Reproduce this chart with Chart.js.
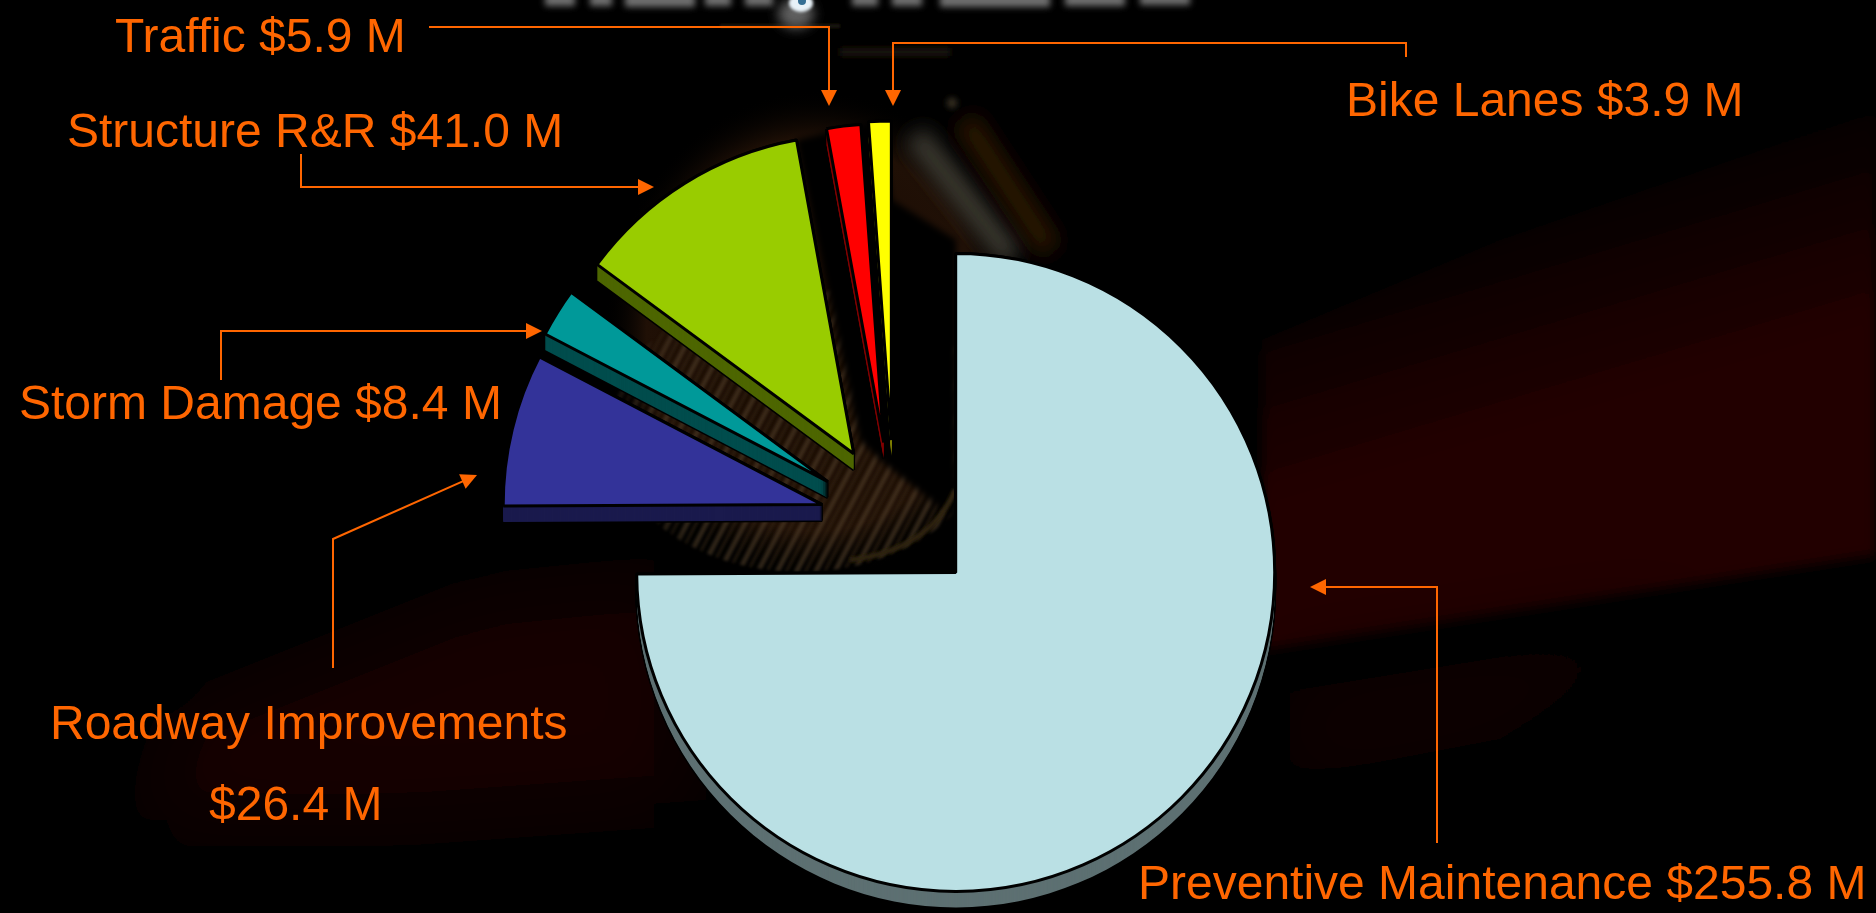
<!DOCTYPE html>
<html><head><meta charset="utf-8">
<style>
html,body{margin:0;padding:0;background:#000;width:1876px;height:913px;overflow:hidden}
#bg{position:absolute;left:0;top:0}
#c{position:absolute;left:0;top:0}
</style>
<script src="https://cdn.jsdelivr.net/npm/chart.js@4/dist/chart.umd.min.js"></script>
</head><body>
<svg id="bg" width="1876" height="913" aria-hidden="true">
<defs>
<filter id="b40" filterUnits="userSpaceOnUse" x="-200" y="-200" width="2300" height="1400"><feGaussianBlur stdDeviation="40"/></filter>
<filter id="b6" filterUnits="userSpaceOnUse" x="-200" y="-200" width="2300" height="1400"><feGaussianBlur stdDeviation="6"/></filter>
<filter id="b10" filterUnits="userSpaceOnUse" x="-200" y="-200" width="2300" height="1400"><feGaussianBlur stdDeviation="10"/></filter>
<filter id="b3" filterUnits="userSpaceOnUse" x="-200" y="-200" width="2300" height="1400"><feGaussianBlur stdDeviation="3"/></filter>
<filter id="b1" filterUnits="userSpaceOnUse" x="-200" y="-200" width="2300" height="1400"><feGaussianBlur stdDeviation="1.6"/></filter>
<linearGradient id="band" gradientUnits="userSpaceOnUse" x1="1480" y1="200" x2="1600" y2="600">
<stop offset="0" stop-color="#220000" stop-opacity="0"/><stop offset=".55" stop-color="#220000"/><stop offset="1" stop-color="#220000"/>
</linearGradient>
<radialGradient id="disc" gradientUnits="userSpaceOnUse" cx="815" cy="335" r="245" gradientTransform="translate(815 335) scale(.86 1) translate(-815 -335)">
<stop offset="0" stop-color="#160900"/><stop offset=".8" stop-color="#201006"/><stop offset="1" stop-color="#000" stop-opacity="0"/>
</radialGradient>
<radialGradient id="fade" gradientUnits="userSpaceOnUse" cx="815" cy="430" r="230">
<stop offset="0" stop-color="#fff"/><stop offset=".7" stop-color="#fff"/><stop offset="1" stop-color="#000"/>
</radialGradient>
<mask id="mf" maskUnits="userSpaceOnUse" x="0" y="0" width="1876" height="913"><rect width="1876" height="913" fill="url(#fade)"/></mask>
<pattern id="streak" width="17" height="17" patternUnits="userSpaceOnUse" patternTransform="rotate(28)">
<rect x="0" width="5" height="17" fill="#54432c"/><rect x="9" width="3" height="17" fill="#3a2a18"/>
</pattern>
</defs>
<rect width="1876" height="913" fill="#000"/>
<polygon points="1262,340 1500,240 1876,110 1876,555 1262,650" fill="url(#band)" filter="url(#b6)"/>
<polygon points="1290,690 1600,640 1700,630 1500,740 1290,780" fill="#0b0000" filter="url(#b40)"/>
<polygon points="180,720 480,600 680,580 680,800 400,820 140,820" fill="#140000" filter="url(#b40)"/>
<ellipse cx="815" cy="335" rx="210" ry="245" fill="url(#disc)"/>
<g mask="url(#mf)"><ellipse cx="800" cy="430" rx="190" ry="142" fill="url(#streak)" opacity=".55" filter="url(#b1)"/></g>
<polygon points="796,140 880,120 892,200 956,240 956,520 880,460 860,440" fill="#000" filter="url(#b3)"/>
<line x1="915" y1="135" x2="1012" y2="258" stroke="#3c3a32" stroke-width="24" filter="url(#b10)"/>
<line x1="965" y1="120" x2="1050" y2="250" stroke="#2a1206" stroke-width="26" filter="url(#b10)"/>
<path d="M850 560 Q930 550 955 490" fill="none" stroke="#2e2210" stroke-width="5" filter="url(#b1)"/>
<line x1="720" y1="26" x2="840" y2="26" stroke="#1c140a" stroke-width="4" filter="url(#b1)"/>
<line x1="840" y1="52" x2="950" y2="52" stroke="#1e160c" stroke-width="8" filter="url(#b3)"/>
<circle cx="952" cy="103" r="5" fill="#3c3626" filter="url(#b3)"/>
<g fill="#6e6e6e" filter="url(#b3)">
<rect x="545" y="-6" width="30" height="12"/><rect x="590" y="-6" width="22" height="12"/><rect x="625" y="-6" width="70" height="13"/><rect x="705" y="-6" width="26" height="12"/><rect x="745" y="-6" width="28" height="12"/><rect x="852" y="-6" width="26" height="12"/><rect x="892" y="-6" width="30" height="12"/><rect x="940" y="-6" width="110" height="13"/><rect x="1065" y="-6" width="60" height="12"/><rect x="1140" y="-6" width="50" height="11"/>
</g>
<ellipse cx="796" cy="14" rx="18" ry="15" fill="#5e5e5e" filter="url(#b6)"/>
<ellipse cx="801" cy="3" rx="12" ry="9" fill="#e8f2f8" filter="url(#b1)"/>
<ellipse cx="802" cy="1" rx="4" ry="4" fill="#356f94"/>
</svg>
<canvas id="c" width="1876" height="913"></canvas>
<script>
const categories = ["Preventive Maintenance","Roadway Improvements","Storm Damage","Structure R&R","Traffic","Bike Lanes"];
const values = [255.8,26.4,8.4,41.0,5.9,3.9];
const topColors = ["#BAE0E4","#333399","#009999","#99CC00","#FF0000","#FFFF00"];
const sideColors = ["#5D7072","#1A1A4D","#004D4D","#4D6600","#800000","#808000"];
const explodes = [80,78,78,78,74,74];
const nudges = [[0,0],[-1,7],[-5,7],[-4,4],[-6,0],[-5,-2]];
const DEPTH = 16;
const ORANGE = "#FF6600";
const FONT = '48px "Liberation Sans", Arial, sans-serif';

const money = v => "$" + v.toFixed(1) + " M";
const callouts = [
  {i:4, lines:[[115,52]], path:[[429,27],[829,27],[829,106]]},
  {i:3, lines:[[67,147]], path:[[301,154],[301,187],[654,187]]},
  {i:2, lines:[[19,419]], path:[[221,380],[221,331],[542,331]]},
  {i:5, lines:[[1346,116]], path:[[1406,57],[1406,43],[893,43],[893,106]]},
  {i:0, lines:[[1138,899]], path:[[1437,843],[1437,587],[1310,587]]},
  {i:1, split:true, lines:[[50,739],[209,820]], path:[[333,668],[333,539],[477,475]]}
];

const pie3d = {
  id:"pie3d",
  beforeDatasetDraw(chart){
    const ctx = chart.ctx, arcs = chart.getDatasetMeta(0).data;
    arcs.forEach((arc,i)=>{
      const mid = (arc.startAngle+arc.endAngle)/2;
      const dx = Math.cos(mid)*explodes[i]+nudges[i][0], dy = Math.sin(mid)*explodes[i]+nudges[i][1];
      const outline = Object.create(arc);
      outline.options = Object.assign({},arc.options,{backgroundColor:"#000",borderColor:"#000",borderWidth:3});
      const side = Object.create(arc);
      side.options = Object.assign({},arc.options,{backgroundColor:sideColors[i],borderColor:sideColors[i],borderWidth:0});
      ctx.save(); ctx.translate(dx,dy);
      for(let d=DEPTH;d>=0;d-=1){ ctx.save(); ctx.translate(0,d); outline.draw(ctx); ctx.restore(); }
      for(let d=DEPTH;d>=1;d-=1){ ctx.save(); ctx.translate(0,d); side.draw(ctx); ctx.restore(); }
      arc.draw(ctx);
      ctx.restore();
    });
    return false;
  }
};

const annotate = {
  id:"annotate",
  afterDraw(chart){
    const ctx = chart.ctx;
    ctx.save();
    ctx.fillStyle = ORANGE; ctx.strokeStyle = ORANGE; ctx.lineWidth = 2;
    ctx.font = FONT; ctx.textBaseline = "alphabetic"; ctx.textAlign = "left";
    callouts.forEach(c=>{
      const name = categories[c.i], val = money(values[c.i]);
      if(c.split){
        ctx.fillText(name,c.lines[0][0],c.lines[0][1]);
        ctx.fillText(val,c.lines[1][0],c.lines[1][1]);
      } else {
        ctx.fillText(name+" "+val,c.lines[0][0],c.lines[0][1]);
      }
      const p = c.path, n = p.length;
      ctx.beginPath(); ctx.moveTo(p[0][0],p[0][1]);
      const tip = p[n-1], prev = p[n-2];
      const a = Math.atan2(tip[1]-prev[1],tip[0]-prev[0]);
      for(let k=1;k<n-1;k++) ctx.lineTo(p[k][0],p[k][1]);
      ctx.lineTo(tip[0]-Math.cos(a)*12,tip[1]-Math.sin(a)*12);
      ctx.stroke();
      ctx.beginPath();
      ctx.moveTo(tip[0],tip[1]);
      ctx.lineTo(tip[0]-Math.cos(a)*16-Math.sin(a)*8,tip[1]-Math.sin(a)*16+Math.cos(a)*8);
      ctx.lineTo(tip[0]-Math.cos(a)*16+Math.sin(a)*8,tip[1]-Math.sin(a)*16-Math.cos(a)*8);
      ctx.closePath(); ctx.fill();
    });
    ctx.restore();
  }
};

new Chart(document.getElementById("c"),{
  type:"pie",
  data:{labels:categories,datasets:[{data:values,backgroundColor:topColors,borderColor:"#000",borderWidth:3}]},
  options:{
    responsive:false,animation:false,devicePixelRatio:1,
    layout:{padding:{left:578.5,right:656.5,top:195.5,bottom:76.5}},
    plugins:{legend:{display:false},tooltip:{enabled:false},title:{display:false}},
    events:[]
  },
  plugins:[pie3d,annotate]
});
</script>
</body></html>
